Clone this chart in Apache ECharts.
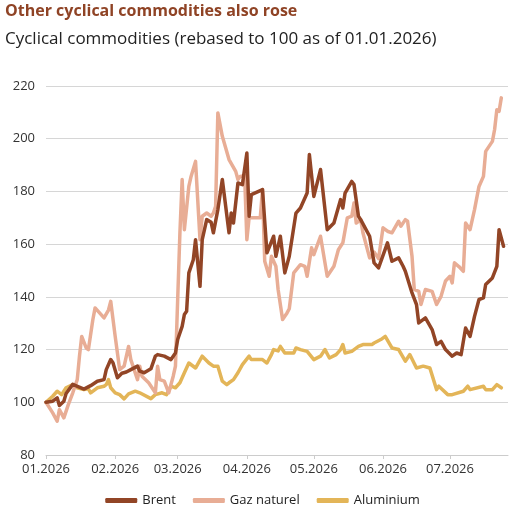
<!DOCTYPE html>
<html>
<head>
<meta charset="utf-8">
<script src="https://cdn.jsdelivr.net/npm/echarts@6/dist/echarts.min.js"></script>
<style>
  html, body { margin: 0; padding: 0; background: #fff; }
  #chart { width: 525px; height: 513px; }
</style>
</head>
<body>
<div id="chart"></div>
<script>
// jours depuis le 01.01.2026 et valeurs
var brentDays = [0, 3, 5, 6, 8, 9, 12, 17, 20, 23, 26, 27, 29, 30, 32, 34, 36, 38, 41, 42, 44, 47, 49, 50, 53, 56, 58, 59, 61, 62, 63, 64, 66, 67, 69, 70, 72, 74, 75, 77, 79, 82, 83, 84, 86, 88, 90, 91, 92, 97, 99, 102, 103, 105, 107, 109, 112, 114, 117, 118, 120, 123, 126, 129, 132, 133, 134, 137, 138, 140, 141, 145, 147, 149, 153, 155, 158, 160, 161, 164, 166, 167, 170, 173, 175, 177, 179, 182, 184, 186, 188, 190, 192, 194, 196, 197, 200, 202, 203, 205]
var brentValues = [100, 100.4, 101.7, 98.8, 100.4, 103.3, 106.8, 105, 106.3, 108, 108.6, 112.4, 116.2, 115, 109.3, 111, 111.5, 112.4, 113.7, 111.8, 111.2, 112.7, 117.5, 118.1, 117.5, 116.2, 118.7, 123.8, 128.8, 133.3, 134.5, 149.1, 154.1, 161.7, 144, 161.7, 169.3, 168.3, 164.3, 173.1, 184.5, 164.3, 171.8, 168, 183.2, 182.6, 194.6, 170.6, 178.8, 180.7, 156.7, 163, 155.4, 163, 149.1, 155.4, 171.8, 173.7, 179.4, 194, 178.1, 188.3, 165.5, 168, 176.9, 173.7, 179.4, 183.8, 182.6, 170.6, 169.3, 163, 152.9, 151, 160.5, 153.5, 154.8, 151.6, 149.7, 141.5, 137.1, 130.1, 132, 127.6, 121.9, 123.1, 120, 117.5, 118.7, 118.1, 128.2, 125, 132.6, 139, 139.6, 144.7, 147.2, 151.6, 165.5, 159.2]

var gasDays = [0, 3, 5, 6, 8, 10, 12, 14, 15, 16, 18, 19, 21, 22, 24, 26, 28, 29, 31, 33, 35, 37, 38, 41, 42, 43, 46, 49, 50, 51, 53, 55, 57, 58, 59, 60, 61, 62, 64, 65, 67, 69, 70, 72, 74, 75, 76, 77, 79, 82, 85, 86, 87, 89, 90, 91, 96, 97, 98, 100, 101, 103, 104, 106, 108, 109, 111, 114, 116, 117, 119, 120, 123, 126, 129, 131, 133, 135, 137, 138, 139, 141, 142, 145, 147, 149, 151, 153, 155, 158, 159, 161, 162, 164, 165, 167, 168, 170, 173, 175, 177, 179, 181, 182, 183, 185, 187, 188, 190, 192, 194, 196, 197, 200, 201, 202, 203, 204]
var gasValues = [100, 96, 92.8, 97.2, 94.1, 99.1, 103.6, 108.6, 117.5, 125, 120.6, 120, 131.4, 135.8, 133.9, 132, 135, 138.3, 125, 112.4, 113.7, 121.2, 116.2, 108.6, 113.7, 109.9, 107.4, 103.6, 113.7, 108.6, 108, 103.6, 109.9, 113.7, 139, 164.3, 184.5, 165.5, 181.9, 185.7, 191.4, 161.7, 170.6, 171.8, 170.6, 171.8, 174.4, 209.8, 200.9, 192.1, 187.6, 184.5, 185.7, 186, 161.7, 170, 170, 180.7, 153.5, 147.8, 155.4, 151.6, 142.8, 131.4, 133.9, 135.5, 149.1, 152.2, 151.6, 147.8, 158.6, 156, 163, 147.8, 151.6, 157.9, 160.5, 170, 170.6, 175.6, 168, 169.3, 164.3, 154.8, 157, 154.5, 166.2, 164.9, 164.3, 168.7, 166.8, 169.3, 168.7, 155.4, 142.8, 142.1, 137.1, 142.8, 142.1, 137.1, 140.2, 146, 147.8, 145.3, 152.9, 151.5, 149.7, 168, 165.5, 173.1, 181.9, 185.7, 195.2, 199, 203.5, 211, 210.4, 215.5]

var aluDays = [0, 3, 5, 7, 9, 12, 14, 17, 19, 20, 23, 26, 27, 28, 29, 31, 33, 35, 37, 40, 42, 47, 49, 52, 54, 56, 58, 60, 62, 64, 67, 70, 73, 75, 77, 79, 81, 82, 84, 86, 88, 91, 92, 97, 99, 101, 102, 104, 105, 107, 111, 112, 114, 117, 120, 123, 125, 127, 130, 132, 133, 134, 137, 140, 142, 146, 147, 150, 152, 155, 158, 161, 163, 166, 169, 172, 175, 176, 180, 182, 187, 189, 190, 196, 197, 200, 202, 204]
var aluValues = [100, 102.3, 104.2, 102.9, 105.5, 106.7, 105.5, 104.8, 105.1, 103.6, 105.5, 106.1, 106.7, 108.6, 105.5, 103.6, 102.9, 101.3, 103.2, 104.2, 103.6, 101.4, 102.9, 103.6, 102.9, 106.1, 105.5, 107.4, 111.2, 114.9, 113, 117.5, 114.9, 113.7, 113.7, 108, 106.7, 107.4, 108.6, 111.2, 114.3, 117.5, 116.2, 116.2, 114.9, 118.1, 120, 119.5, 121.2, 118.7, 118.7, 120.6, 120, 119.3, 116.2, 117.5, 120, 116.8, 118.1, 120, 121.9, 118.7, 119.3, 121.2, 121.9, 121.9, 122.5, 123.8, 125, 120.6, 120, 115.6, 118.1, 113, 113.7, 113, 104.8, 106.1, 102.9, 102.9, 104.2, 106.1, 104.8, 106.1, 104.8, 104.8, 106.7, 105.5]

// premier jour de chaque mois (jours depuis le 01.01.2026) et libellés
var monthStarts = [0, 31, 59, 90, 120, 151, 181]
var monthLabels = ['01.2026', '02.2026', '03.2026', '04.2026', '05.2026', '06.2026', '07.2026']
var yTicks = [80, 100, 120, 140, 160, 180, 200, 220]

var toPairs = (days, values) => days.map((d, i) => [d, values[i]])

var chart = echarts.init(document.getElementById('chart'))
var font = 'Open Sans'

chart.setOption({
  animation: false,
  textStyle: { fontFamily: font },
  title: [{
    text: 'Other cyclical commodities also rose',
    left: 5, top: 3, padding: 0,
    textStyle: { fontSize: 16, fontWeight: 'bold', color: '#8f4325', fontFamily: font }
  }, {
    text: 'Cyclical commodities (rebased to 100 as of 01.01.2026)',
    left: 5, top: 31, padding: 0,
    textStyle: { fontSize: 17, fontWeight: 'normal', color: '#222', fontFamily: font }
  }],
  legend: {
    data: ['Brent', 'Gaz naturel', 'Aluminium'],
    bottom: 1,
    left: 'center',
    icon: 'roundRect',
    itemWidth: 32,
    itemHeight: 5,
    itemGap: 17,
    textStyle: { fontSize: 13, color: '#222' }
  },
  grid: { left: 46, right: 17, top: 86, bottom: 58, containLabel: false },
  xAxis: {
    type: 'value',
    min: 0,
    max: 207,
    axisLine: { show: true, lineStyle: { color: '#cccccc' } },
    axisTick: { show: true, length: 4, lineStyle: { color: '#cccccc' }, customValues: monthStarts },
    splitLine: { show: false },
    axisLabel: {
      customValues: monthStarts,
      color: '#333',
      fontSize: 13,
      margin: 8,
      formatter: val => monthLabels[monthStarts.indexOf(val)] || ''
    }
  },
  yAxis: {
    type: 'value',
    min: yTicks[0],
    max: yTicks[yTicks.length - 1],
    interval: 20,
    axisLine: { show: false },
    axisTick: { show: false },
    splitLine: { lineStyle: { color: '#d6d6d6' } },
    axisLabel: { color: '#333', fontSize: 13, margin: 11 }
  },
  series: [{
    name: 'Aluminium',
    type: 'line',
    data: toPairs(aluDays, aluValues),
    showSymbol: false,
    color: '#e3b558',
    lineStyle: { width: 3.5, cap: 'round', join: 'round' },
    z: 2
  }, {
    name: 'Gaz naturel',
    type: 'line',
    data: toPairs(gasDays, gasValues),
    showSymbol: false,
    color: '#e8ad95',
    lineStyle: { width: 3.5, cap: 'round', join: 'round' },
    z: 3
  }, {
    name: 'Brent',
    type: 'line',
    data: toPairs(brentDays, brentValues),
    showSymbol: false,
    color: '#924526',
    lineStyle: { width: 3.5, cap: 'round', join: 'round' },
    z: 4
  }]
})
</script>
</body>
</html>
